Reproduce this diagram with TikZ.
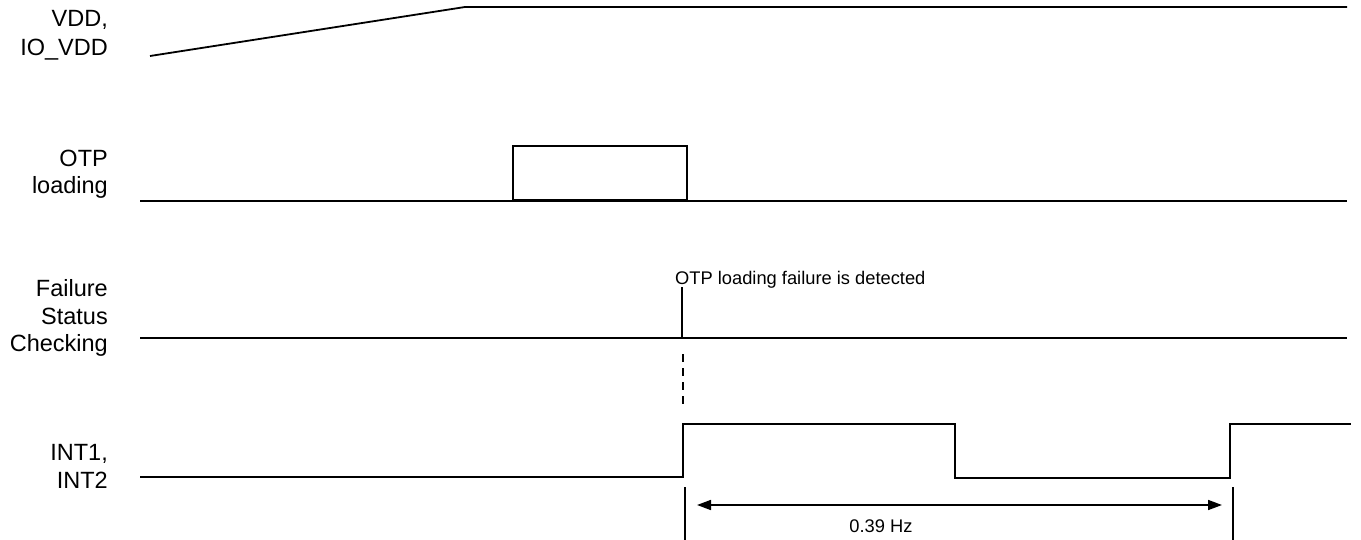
\documentclass[tikz,border=0pt]{standalone}
\usepackage{fontspec}
\setmainfont{Liberation Sans}
\usetikzlibrary{arrows.meta}
\begin{document}
\begin{tikzpicture}[x=1pt,y=-1pt,
  lbl/.style={anchor=base east,inner sep=0pt,font=\fontsize{23.5}{27}\selectfont},
  small/.style={inner sep=0pt,font=\fontsize{18.3}{22}\selectfont},
  sig/.style={line width=1.8pt,line cap=butt,line join=miter},
  tick/.style={line width=1.4pt},
  dim/.style={line width=1.6pt,{Triangle[length=14pt,width=10pt]}-{Triangle[length=14pt,width=10pt]}}]
\useasboundingbox (0,0) rectangle (1361,540);
% labels
\node[lbl] (vdd1) at (108,27) {VDD,};
\node[lbl] (vdd2) at (108,56) {IO\_VDD};
\node[lbl] (otp1) at (108,167) {OTP};
\node[lbl] (otp2) at (108,194) {loading};
\node[lbl] (fsc1) at (108,297) {Failure};
\node[lbl] (fsc2) at (108,324) {Status};
\node[lbl] (fsc3) at (108,351) {Checking};
\node[lbl] (int1) at (108,460) {INT1,};
\node[lbl] (int2) at (108,488) {INT2};
% VDD
\coordinate (v0) at (150,56);
\coordinate (v1) at (465,7);
\coordinate (v2) at (1347,7);
\draw[sig] (v0) -- (v1) -- (v2);
% OTP loading
\coordinate (o0) at (140,201);
\coordinate (o1) at (1347,201);
\draw[sig] (o0) -- (o1);
\draw[line width=1.8pt] (513,201) rectangle (687,146);
\draw[line width=3pt] (513,201) -- (687,201);
% Failure status checking
\coordinate (f0) at (140,338);
\coordinate (f1) at (1347,338);
\coordinate (fs) at (682,338);
\coordinate (ft) at (682,287);
\draw[sig] (f0) -- (f1);
\draw[tick] (fs) -- (ft);
\node[small,anchor=base west] (fail) at (675,285) {OTP loading failure is detected};
% dashed link
\coordinate (d0) at (683,354);
\coordinate (d1) at (683,405);
\draw[line width=1.4pt,dash pattern=on 8pt off 6pt] (d0) -- (d1);
% INT
\draw[sig] (140,477) -- (683,477) -- (683,424) -- (955,424) -- (955,478) -- (1230,478) -- (1230,424) -- (1351,424);
% dimension
\coordinate (k0) at (685,487);
\coordinate (k0b) at (685,540);
\coordinate (k1) at (1233,487);
\coordinate (k1b) at (1233,540);
\draw[tick] (k0) -- (k0b);
\draw[tick] (k1) -- (k1b);
\coordinate (a0) at (697,505);
\coordinate (a1) at (1222,505);
\draw[dim] (a0) -- (a1);
\node[small,anchor=base] (freq) at (881,532) {0.39 Hz};
\end{tikzpicture}
\end{document}
